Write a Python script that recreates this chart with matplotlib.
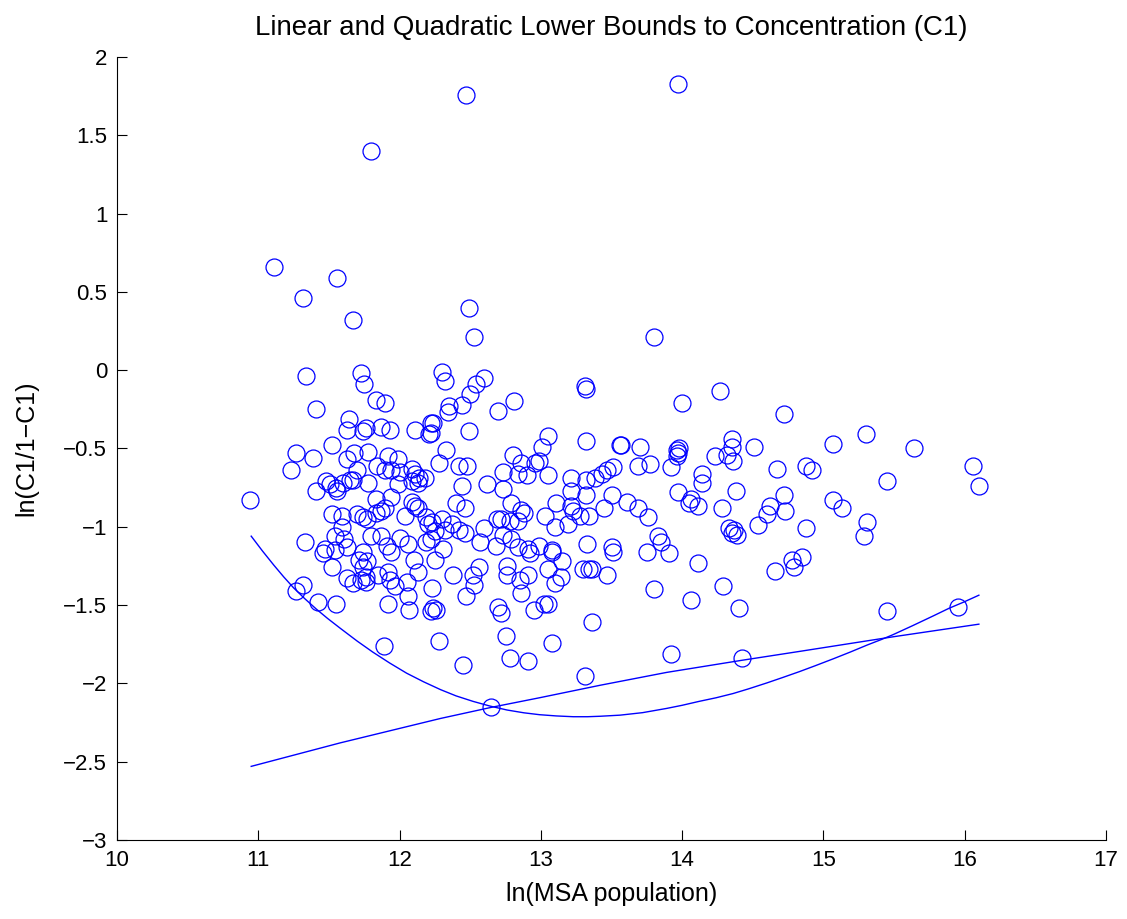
# -*- coding: utf-8 -*-
"""
Linear and quadratic lower bounds to concentration (C1) - scatter with bound curves
"""
import matplotlib
matplotlib.use('Agg')
from matplotlib import pyplot as plt

plt.rcParams['font.family'] = ['Liberation Sans', 'DejaVu Sans']

# --- data: ln(MSA population) vs ln(C1/1-C1) ---
pop_x = [12.47, 13.97, 11.80, 11.11, 11.56, 11.32, 11.67, 12.49, 12.53, 13.80,
         # left cluster, upper part
         11.34, 11.73, 11.75, 11.41, 11.83, 11.90, 11.64, 11.63, 11.74, 11.76,
         11.87, 11.93, 12.11, 12.22, 12.21, 11.52, 11.27, 11.39, 11.23, 10.94,
         11.63, 11.68, 11.78, 11.92, 11.99, 12.09, 11.84, 11.90, 11.94, 12.00,
         11.70, 11.48, 11.51, 11.55, 11.60, 11.65, 11.67, 11.41, 11.56, 11.78,
         11.99, 12.11, 12.14, 12.18, 12.09, 12.13, 11.83, 11.94, 12.09, 12.11,
         11.52, 11.59, 11.70, 11.74, 11.77, 11.83, 11.87, 11.90, 12.04, 12.13,
         12.19, 12.20, 11.59,
         # middle cluster, upper part
         12.30, 12.32, 12.60, 12.54, 12.50, 12.44, 12.35, 12.34, 12.70, 12.81,
         13.31, 13.32, 12.24, 12.22, 12.49, 13.05, 13.01, 13.32, 13.56, 12.33,
         12.28, 12.42, 12.48, 12.80, 12.73, 12.86, 12.84, 12.90, 12.96, 12.99,
         13.05, 13.21, 13.32, 13.38, 13.43, 13.47, 13.51, 12.44, 12.62, 12.73,
         13.21, 13.32, 13.50, 12.40, 12.46, 12.79, 12.86, 12.88, 12.72, 12.78,
         12.69, 12.60, 12.84, 13.03, 13.11, 13.21, 13.23, 13.28, 13.34, 13.45,
         13.10, 13.19, 12.23, 12.30, 12.37, 12.42, 12.32, 12.25, 12.46,
         # right part
         14.27, 14.00, 14.72, 13.57, 13.70, 13.69, 13.77, 13.92, 13.96, 13.98,
         13.97, 13.96, 14.35, 14.35, 14.32, 14.36, 14.23, 14.51, 14.67, 14.88,
         14.92, 14.14, 14.14, 13.97, 14.38, 14.72, 13.61, 13.69, 13.76, 14.06,
         14.05, 14.11, 14.28, 14.62, 14.60, 14.73, 14.54, 14.88, 14.33, 14.35,
         14.37, 14.39, 13.83,
         15.30, 15.07, 15.64, 16.06, 15.45, 16.10, 15.07, 15.13, 15.31, 15.29,
         13.75, 13.85, 13.91, 14.11, 13.80, 14.06, 14.29, 14.40, 14.66, 14.78,
         14.79, 14.85, 15.45, 15.95, 13.92, 14.42,
         # middle cluster, lower part
         12.22, 12.31, 12.25, 12.57, 12.68, 12.73, 12.79, 12.84, 12.91, 12.92,
         12.99, 13.08, 13.08, 13.33, 13.50, 13.51, 13.15, 13.05, 13.14, 13.10,
         12.76, 12.76, 12.85, 12.91, 12.86, 12.56, 12.52, 12.53, 12.38, 12.47,
         12.23, 12.24, 12.22, 12.26, 12.70, 12.72, 12.95, 13.02, 13.05, 13.30,
         13.34, 13.36, 13.47, 13.36, 12.28, 12.75, 13.08, 12.78, 12.91, 12.45,
         13.31, 12.65,
         # left cluster, lower part
         11.33, 11.47, 11.46, 11.54, 11.63, 11.61, 11.54, 11.52, 11.74, 11.71,
         11.77, 11.74, 11.80, 11.87, 11.91, 11.94, 12.00, 12.06, 12.10, 12.19,
         11.63, 11.67, 11.73, 11.76, 11.76, 11.85, 11.92, 11.93, 11.97, 12.05,
         12.13, 12.06, 11.92, 12.07, 11.32, 11.27, 11.42, 11.55, 11.89]

conc_y = [1.76, 1.83, 1.40, 0.66, 0.59, 0.46, 0.32, 0.40, 0.21, 0.21,
          -0.04, -0.02, -0.09, -0.25, -0.19, -0.21, -0.31, -0.38, -0.39, -0.37,
          -0.36, -0.38, -0.38, -0.34, -0.41, -0.48, -0.53, -0.56, -0.64, -0.83,
          -0.57, -0.53, -0.52, -0.55, -0.57, -0.63, -0.61, -0.64, -0.64, -0.65,
          -0.64, -0.71, -0.73, -0.75, -0.72, -0.70, -0.70, -0.77, -0.77, -0.72,
          -0.73, -0.66, -0.69, -0.69, -0.71, -0.72, -0.82, -0.81, -0.84, -0.87,
          -0.92, -0.93, -0.92, -0.94, -0.95, -0.91, -0.90, -0.88, -0.93, -0.88,
          -0.94, -0.98, -1.00,
          -0.01, -0.07, -0.05, -0.09, -0.15, -0.22, -0.23, -0.27, -0.26, -0.20,
          -0.10, -0.12, -0.34, -0.40, -0.39, -0.42, -0.49, -0.45, -0.48, -0.51,
          -0.59, -0.61, -0.61, -0.54, -0.65, -0.59, -0.66, -0.67, -0.59, -0.58,
          -0.67, -0.69, -0.70, -0.69, -0.66, -0.64, -0.62, -0.74, -0.73, -0.76,
          -0.77, -0.80, -0.80, -0.85, -0.88, -0.85, -0.89, -0.91, -0.95, -0.96,
          -0.95, -1.01, -0.96, -0.93, -0.85, -0.87, -0.90, -0.93, -0.93, -0.88,
          -1.00, -0.98, -0.97, -0.95, -0.98, -1.02, -1.02, -1.03, -1.04,
          -0.13, -0.21, -0.28, -0.48, -0.49, -0.61, -0.60, -0.62, -0.51, -0.50,
          -0.53, -0.55, -0.44, -0.49, -0.54, -0.58, -0.55, -0.49, -0.63, -0.61,
          -0.64, -0.66, -0.72, -0.78, -0.77, -0.80, -0.84, -0.88, -0.94, -0.82,
          -0.85, -0.87, -0.88, -0.87, -0.92, -0.90, -0.99, -1.01, -1.01, -1.04,
          -1.02, -1.05, -1.06,
          -0.41, -0.47, -0.50, -0.61, -0.71, -0.74, -0.83, -0.88, -0.97, -1.06,
          -1.16, -1.10, -1.17, -1.23, -1.40, -1.47, -1.38, -1.52, -1.28, -1.21,
          -1.26, -1.19, -1.54, -1.51, -1.81, -1.84,
          -1.08, -1.14, -1.21, -1.10, -1.12, -1.05, -1.08, -1.13, -1.14, -1.17,
          -1.12, -1.15, -1.16, -1.11, -1.13, -1.16, -1.22, -1.27, -1.32, -1.36,
          -1.25, -1.31, -1.34, -1.31, -1.42, -1.26, -1.31, -1.37, -1.31, -1.44,
          -1.39, -1.52, -1.54, -1.53, -1.51, -1.55, -1.53, -1.49, -1.49, -1.27,
          -1.27, -1.27, -1.31, -1.61, -1.73, -1.70, -1.74, -1.84, -1.86, -1.88,
          -1.95, -2.15,
          -1.10, -1.14, -1.17, -1.15, -1.13, -1.08, -1.06, -1.26, -1.16, -1.21,
          -1.22, -1.26, -1.06, -1.06, -1.12, -1.16, -1.07, -1.11, -1.21, -1.10,
          -1.33, -1.36, -1.34, -1.32, -1.35, -1.31, -1.29, -1.34, -1.38, -1.35,
          -1.29, -1.44, -1.49, -1.53, -1.37, -1.41, -1.48, -1.49, -1.76]

lin_x = [10.95, 11.58, 12.29, 12.65, 12.99, 13.42, 13.89, 14.42, 14.83, 15.49, 16.10]
lin_y = [-2.530, -2.380, -2.224, -2.153, -2.092, -2.012, -1.930, -1.853, -1.796, -1.703, -1.622]

quad_x = [10.95, 11.03, 11.11, 11.18, 11.25, 11.33, 11.41, 11.49, 11.58, 11.70,
          11.81, 11.93, 12.05, 12.17, 12.29, 12.40, 12.52, 12.64, 12.76, 12.88,
          12.99, 13.11, 13.23, 13.33, 13.42, 13.56, 13.72, 13.89, 14.00, 14.12,
          14.24, 14.36, 14.47, 14.60, 14.71, 14.83, 14.94, 15.07, 15.19, 15.31,
          15.41, 15.49, 15.63, 15.78, 15.89, 15.99, 16.10]
quad_y = [-1.060, -1.155, -1.245, -1.320, -1.390, -1.460, -1.525, -1.585, -1.648, -1.730,
          -1.800, -1.870, -1.935, -1.990, -2.040, -2.080, -2.115, -2.145, -2.170, -2.188,
          -2.200, -2.208, -2.213, -2.213, -2.210, -2.203, -2.187, -2.160, -2.140, -2.115,
          -2.092, -2.065, -2.035, -1.997, -1.963, -1.925, -1.888, -1.843, -1.800, -1.755,
          -1.720, -1.690, -1.632, -1.568, -1.520, -1.482, -1.437]

x_ticks = [10, 11, 12, 13, 14, 15, 16, 17]
y_ticks = [2, 1.5, 1, 0.5, 0, -0.5, -1, -1.5, -2, -2.5, -3]
y_ticklabels = ['2', '1.5', '1', '0.5', '0', '\u22120.5', '\u22121', '\u22121.5',
                '\u22122', '\u22122.5', '\u22123']

# --- draw ---
fig = plt.figure(figsize=(11.27, 9.19), dpi=100)
ax = fig.add_axes([0.1038, 0.086, 0.8776, 0.852])

ax.plot(pop_x, conc_y, 'o', mfc='none', mec=(0, 0, 1), ms=12.2, mew=0.9, ls='none')
ax.plot(lin_x, lin_y, color=(0, 0, 1), lw=1.0)
ax.plot(quad_x, quad_y, color=(0, 0, 1), lw=1.0)

ax.set_xlim(10, 17); ax.set_ylim(-3, 2)
ax.set_xticks(x_ticks)
ax.set_xticklabels([str(t) for t in x_ticks])
ax.set_yticks(y_ticks)
ax.set_yticklabels(y_ticklabels)

ax.spines['top'].set_visible(False)
ax.spines['right'].set_visible(False)
ax.tick_params(direction='in', length=7, width=0.8, labelsize=16, pad=7)

ax.set_title('Linear and Quadratic Lower Bounds to Concentration (C1)', fontsize=19.9, pad=16)
ax.set_xlabel('ln(MSA population)', fontsize=18, labelpad=8)
ax.set_ylabel('ln(C1/1\u2212C1)', fontsize=18, labelpad=18)

fig.savefig('out.png', dpi=100)
